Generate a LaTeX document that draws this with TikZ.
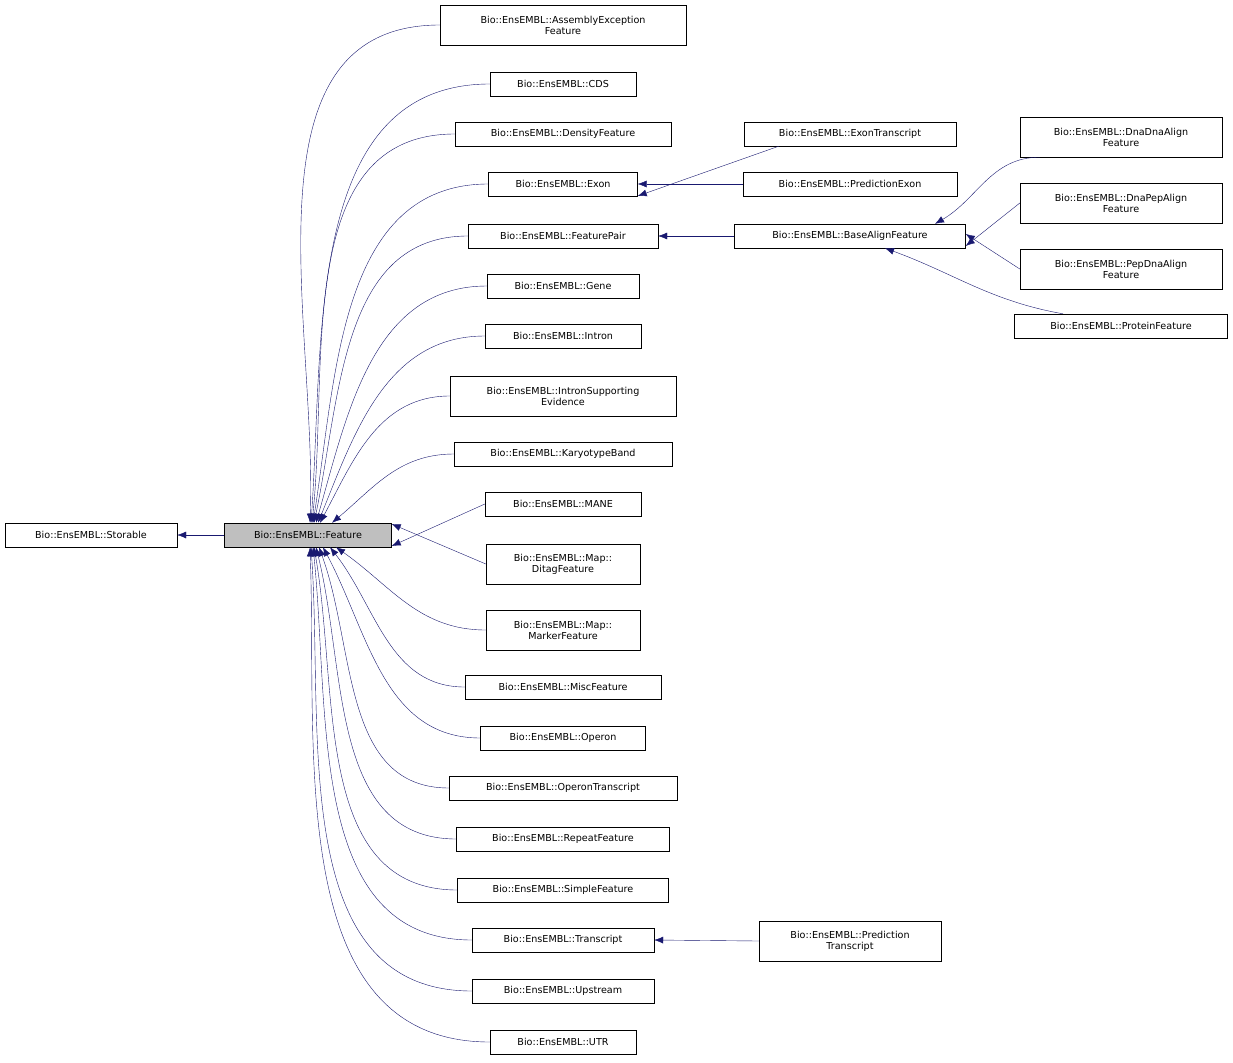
\documentclass[tikz,border=0pt]{standalone}
\usepackage{fontspec}
\setmainfont{DejaVu Sans}
\usetikzlibrary{arrows.meta}

\begin{document}
\begin{tikzpicture}[
    x=1pt, y=-1pt,
    cls/.style={draw, align=center, font=\fontsize{9.6}{11}\selectfont, inner sep=0pt, minimum height=24pt},
    cls2/.style={cls, minimum height=40pt},
    edge/.style={draw=edgeblue, {Latex[length=9pt,width=7pt]}-},
    every node/.style={color=black}
    ]
    \definecolor{edgeblue}{HTML}{191970}
    \useasboundingbox (0,0) rectangle (1233,1062);
    % left part
    \node[cls, minimum width=172pt] (storable) at (91,535) {Bio::EnsEMBL::Storable};
    \node[cls, minimum width=167pt, fill={rgb,255:red,191;green,191;blue,191}] (feat) at (308,535) {Bio::EnsEMBL::Feature};
    % children of Feature
    \node[cls2, minimum width=246pt] (asm) at (563,25) {Bio::EnsEMBL::AssemblyException\\Feature};
    \node[cls, minimum width=146pt] (cds) at (563,84) {Bio::EnsEMBL::CDS};
    \node[cls, minimum width=216pt] (dens) at (563,134) {Bio::EnsEMBL::DensityFeature};
    \node[cls, minimum width=149pt] (exon) at (563,184) {Bio::EnsEMBL::Exon};
    \node[cls, minimum width=190pt] (fpair) at (563,236) {Bio::EnsEMBL::FeaturePair};
    \node[cls, minimum width=152pt] (gene) at (563,286) {Bio::EnsEMBL::Gene};
    \node[cls, minimum width=156pt] (intron) at (563,336) {Bio::EnsEMBL::Intron};
    \node[cls2, minimum width=226pt] (ise) at (563,396) {Bio::EnsEMBL::IntronSupporting\\Evidence};
    \node[cls, minimum width=218pt] (kary) at (563,454) {Bio::EnsEMBL::KaryotypeBand};
    \node[cls, minimum width=156pt] (mane) at (563,504) {Bio::EnsEMBL::MANE};
    \node[cls2, minimum width=154pt] (ditag) at (563,564) {Bio::EnsEMBL::Map::\\DitagFeature};
    \node[cls2, minimum width=154pt] (marker) at (563,630) {Bio::EnsEMBL::Map::\\MarkerFeature};
    \node[cls, minimum width=196pt] (misc) at (563,687) {Bio::EnsEMBL::MiscFeature};
    \node[cls, minimum width=165pt] (operon) at (563,738) {Bio::EnsEMBL::Operon};
    \node[cls, minimum width=228pt] (optr) at (563,788) {Bio::EnsEMBL::OperonTranscript};
    \node[cls, minimum width=213pt] (rep) at (563,839) {Bio::EnsEMBL::RepeatFeature};
    \node[cls, minimum width=211pt] (simple) at (563,890) {Bio::EnsEMBL::SimpleFeature};
    \node[cls, minimum width=182pt] (trans) at (563,940) {Bio::EnsEMBL::Transcript};
    \node[cls, minimum width=182pt] (up) at (563,991) {Bio::EnsEMBL::Upstream};
    \node[cls, minimum width=146pt] (utr) at (563,1042) {Bio::EnsEMBL::UTR};
    % third column
    \node[cls, minimum width=212pt] (extr) at (850,134) {Bio::EnsEMBL::ExonTranscript};
    \node[cls, minimum width=214pt] (pexon) at (850,184) {Bio::EnsEMBL::PredictionExon};
    \node[cls, minimum width=231pt] (base) at (850,236) {Bio::EnsEMBL::BaseAlignFeature};
    \node[cls2, minimum width=182pt] (ptrans) at (850,941) {Bio::EnsEMBL::Prediction\\Transcript};
    % fourth column
    \node[cls2, minimum width=202pt] (dnadna) at (1121,137) {Bio::EnsEMBL::DnaDnaAlign\\Feature};
    \node[cls2, minimum width=202pt] (dnapep) at (1121,203) {Bio::EnsEMBL::DnaPepAlign\\Feature};
    \node[cls2, minimum width=202pt] (pepdna) at (1121,269) {Bio::EnsEMBL::PepDnaAlign\\Feature};
    \node[cls, minimum width=213pt] (prot) at (1121,326) {Bio::EnsEMBL::ProteinFeature};

    % edges
    \draw[edge] (storable.east) -- (feat.west);
    \foreach \c/\dx/\a in {asm/2/88, cds/3/86, dens/4/84, exon/5/81, fpair/6/78,
        gene/8/74, intron/10/68, ise/12/62, kary/24/40}
        \draw[edge] ([xshift=\dx]feat.north) to[out=\a, in=180] (\c.west);
    \foreach \c/\dx/\a in {marker/28/-35, misc/22/-52, operon/15/-62, optr/11/-70,
        rep/8/-76, simple/6/-80, trans/5/-84, up/3/-86, utr/2/-88}
        \draw[edge] ([xshift=\dx]feat.south) to[out=\a, in=180] (\c.west);
    \draw[edge] ([yshift=-11]feat.east) -- (mane.west);
    \draw[edge] ([yshift=11]feat.east) -- (ditag.west);
    \draw[edge] ([yshift=-12]exon.east) -- ([xshift=35]extr.south west);
    \draw[edge] (exon.east) -- (pexon.west);
    \draw[edge] (fpair.east) -- (base.west);
    \draw[edge] (trans.east) -- (ptrans.west);
    \draw[edge] ([xshift=85]base.north) to[out=30, in=180] ([xshift=20]dnadna.south west);
    \draw[edge] ([yshift=-10]base.east) -- (dnapep.west);
    \draw[edge] ([yshift=2]base.east) -- (pepdna.west);
    \draw[edge] ([xshift=35]base.south) to[out=-20, in=170] ([xshift=-58]prot.north);
\end{tikzpicture}
\end{document}
